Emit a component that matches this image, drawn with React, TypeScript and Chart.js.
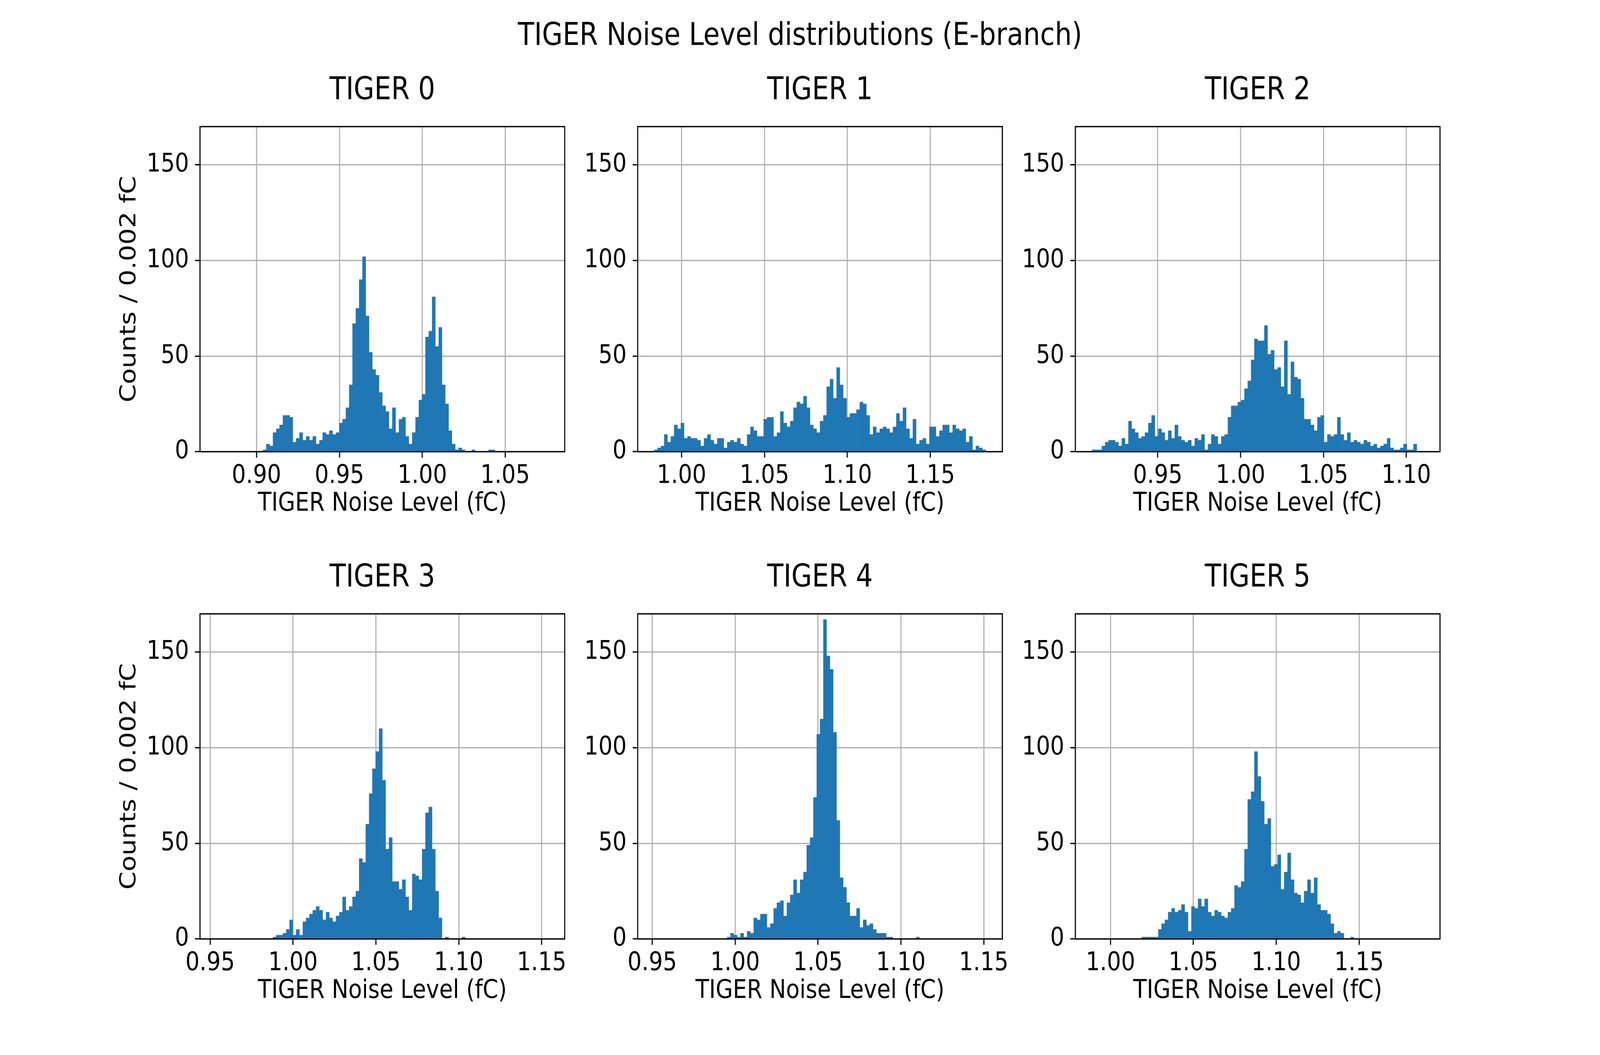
import { useEffect, useRef } from 'react';
import Chart from 'chart.js/auto';

const FONT = "'DejaVu Sans', sans-serif";
const BAR_COLOR = '#1f77b4';
const GRID_COLOR = '#b0b0b0';
const LINE_W = 3.33;

const SUPTITLE = 'TIGER Noise Level distributions (E-branch)';
const X_TITLE = 'TIGER Noise Level (fC)';
const Y_TITLE = 'Counts / 0.002 fC';

const BIN_WIDTH = 0.002;
const N_BINS = 100;
const Y_MAX = 170;
const yTicks = [0, 50, 100, 150];

// TIGER 0
const t0Start = 0.8759;
const t0First = 14;
const t0Counts = [
  1, 4, 3, 10, 12, 14, 19, 19, 18, 5,
  7, 10, 6, 8, 6, 8, 4, 6, 10, 9,
  11, 9, 10, 15, 17, 23, 35, 67, 75, 90,
  102, 71, 52, 43, 40, 31, 24, 21, 12, 23,
  10, 17, 18, 8, 4, 10, 18, 27, 30, 60,
  63, 81, 55, 65, 35, 25, 11, 4, 1, 2,
  1, 0, 0, 1, 0, 0, 0, 0, 1, 1,
];
const t0Ticks = [0.9, 0.95, 1.0, 1.05];

// TIGER 1
const t1Start = 0.9835;
const t1First = 0;
const t1Counts = [
  1, 2, 3, 9, 5, 8, 14, 12, 15, 7,
  8, 7, 7, 6, 3, 7, 9, 6, 4, 7,
  7, 2, 5, 6, 5, 7, 4, 3, 9, 13,
  11, 8, 8, 17, 18, 18, 8, 10, 21, 15,
  13, 16, 23, 26, 25, 29, 23, 14, 12, 10,
  16, 19, 34, 38, 28, 44, 35, 28, 18, 20,
  20, 22, 26, 25, 19, 9, 13, 10, 12, 13,
  12, 10, 13, 20, 16, 23, 12, 7, 17, 4,
  6, 7, 4, 13, 13, 8, 11, 14, 14, 10,
  14, 12, 11, 12, 5, 8, 1, 3, 2, 1,
];
const t1Ticks = [1.0, 1.05, 1.1, 1.15];

// TIGER 2
const t2Start = 0.9103;
const t2First = 0;
const t2Counts = [
  1, 1, 1, 3, 5, 6, 6, 5, 3, 7,
  4, 16, 12, 10, 7, 8, 10, 15, 19, 8,
  12, 10, 6, 11, 7, 14, 8, 6, 5, 6,
  3, 7, 6, 9, 1, 4, 9, 8, 4, 8,
  9, 18, 24, 24, 26, 27, 33, 37, 48, 59,
  58, 58, 66, 51, 53, 43, 44, 34, 58, 30,
  47, 39, 38, 28, 17, 17, 14, 11, 18, 19,
  5, 9, 8, 9, 18, 9, 6, 10, 5, 6,
  5, 4, 6, 5, 3, 4, 2, 3, 4, 7,
  2, 1, 1, 2, 4, 1, 1, 4,
];
const t2Ticks = [0.95, 1.0, 1.05, 1.1];

// TIGER 3
const t3Start = 0.9539;
const t3First = 17;
const t3Counts = [
  1, 2, 2, 3, 5, 10, 2, 5, 2, 9,
  11, 13, 15, 17, 15, 10, 14, 11, 9, 12,
  14, 22, 15, 17, 22, 25, 42, 40, 60, 76,
  89, 98, 110, 83, 47, 53, 30, 30, 26, 31,
  22, 15, 34, 33, 31, 47, 66, 69, 47, 25,
  11, 0, 1, 0, 0, 0, 0, 1,
];
const t3Ticks = [0.95, 1.0, 1.05, 1.1, 1.15];

// TIGER 4
const t4Start = 0.9512;
const t4First = 22;
const t4Counts = [
  1, 3, 2, 1, 3, 1, 4, 3, 11, 10,
  13, 13, 6, 8, 16, 19, 20, 12, 19, 23,
  31, 24, 31, 35, 49, 53, 74, 107, 115, 167,
  148, 141, 108, 62, 32, 27, 19, 12, 12, 16,
  6, 10, 7, 8, 5, 3, 3, 3, 1, 1,
  0, 0, 0, 0, 0, 0, 0, 1,
];
const t4Ticks = [0.95, 1.0, 1.05, 1.1, 1.15];

// TIGER 5
const t5Start = 0.9888;
const t5First = 15;
const t5Counts = [
  1, 1, 1, 1, 1, 5, 8, 10, 14, 16,
  14, 15, 18, 14, 4, 17, 16, 21, 17, 21,
  14, 12, 15, 14, 12, 11, 14, 16, 28, 27,
  30, 47, 73, 77, 98, 85, 72, 60, 63, 38,
  39, 44, 26, 35, 45, 31, 24, 23, 19, 25,
  31, 24, 32, 18, 15, 15, 13, 8, 3, 4,
  3, 0, 0, 1,
];
const t5Ticks = [1.0, 1.05, 1.1, 1.15];

// figure and axes boxes, in figure pixels
const FIG_W = 4800;
const FIG_H = 2700;
const AX_W = 1094;
const AX_H = 832;
const PAD_L = 260;
const PAD_T = 150;
const PAD_R = 40;
const PAD_B = 200;
const COL_X = [600, 1913, 3226];
const ROW_Y = [324, 1571];

// the viewport may not be FIG_W x FIG_H css px, so the figure is stretched to fill it
const hasWin = typeof window !== 'undefined';
const FIT_X = hasWin && window.innerWidth ? window.innerWidth / FIG_W : 1;
const FIT_Y = hasWin && window.innerHeight ? window.innerHeight / FIG_H : 1;
const RATIO = (hasWin ? window.devicePixelRatio || 1 : 1) * Math.max(FIT_X, FIT_Y);

type PanelDef = {
  title: string;
  start: number;
  first: number;
  counts: number[];
  ticks: number[];
};

const panels: PanelDef[] = [
  { title: 'TIGER 0', start: t0Start, first: t0First, counts: t0Counts, ticks: t0Ticks },
  { title: 'TIGER 1', start: t1Start, first: t1First, counts: t1Counts, ticks: t1Ticks },
  { title: 'TIGER 2', start: t2Start, first: t2First, counts: t2Counts, ticks: t2Ticks },
  { title: 'TIGER 3', start: t3Start, first: t3First, counts: t3Counts, ticks: t3Ticks },
  { title: 'TIGER 4', start: t4Start, first: t4First, counts: t4Counts, ticks: t4Ticks },
  { title: 'TIGER 5', start: t5Start, first: t5First, counts: t5Counts, ticks: t5Ticks },
];

const framePlugin = {
  id: 'frame',
  afterDraw(chart: any) {
    const { ctx, chartArea: a } = chart;
    ctx.save();
    ctx.strokeStyle = '#000';
    ctx.lineWidth = LINE_W;
    ctx.strokeRect(a.left, a.top, a.right - a.left, a.bottom - a.top);
    ctx.restore();
  },
};

function Histogram({ def, showYTitle }: { def: PanelDef; showYTitle: boolean }) {
  const canvasRef = useRef<HTMLCanvasElement>(null);
  const chartRef = useRef<Chart | null>(null);

  useEffect(() => {
    if (!canvasRef.current) return;
    if (chartRef.current) chartRef.current.destroy();

    const points = def.counts.map((c, i) => ({
      x: def.start + (def.first + i + 0.5) * BIN_WIDTH,
      y: c,
    }));
    const xMin = def.start - 0.05 * N_BINS * BIN_WIDTH;
    const xMax = def.start + 1.05 * N_BINS * BIN_WIDTH;

    const gridOpts = {
      color: GRID_COLOR,
      lineWidth: LINE_W,
      tickColor: '#000',
      tickWidth: LINE_W,
      tickLength: 15,
      offset: false,
    };

    chartRef.current = new Chart(canvasRef.current, {
      type: 'bar',
      data: {
        datasets: [{
          data: points,
          backgroundColor: BAR_COLOR,
          borderWidth: 0,
          barPercentage: 1,
          categoryPercentage: 1,
        }],
      },
      options: {
        responsive: false,
        animation: false,
        devicePixelRatio: RATIO,
        layout: { padding: { left: 0, top: 0, right: PAD_R, bottom: 0 } },
        plugins: {
          legend: { display: false },
          tooltip: { enabled: false },
          title: {
            display: true,
            fullSize: false,
            text: def.title,
            color: '#000',
            font: { family: FONT, size: 80, weight: 'normal' },
            padding: { top: 11, bottom: 43 },
          },
        },
        scales: {
          x: {
            type: 'linear',
            min: xMin,
            max: xMax,
            offset: false,
            z: 1,
            grid: gridOpts,
            border: { display: false },
            ticks: {
              color: '#000',
              font: { family: FONT, size: 66.67 },
              padding: 8,
              autoSkip: false,
              maxRotation: 0,
              callback: (v: any) => Number(v).toFixed(2),
            },
            title: {
              display: true,
              text: X_TITLE,
              color: '#000',
              font: { family: FONT, size: 66.67 },
              padding: { top: 0, bottom: 26 },
            },
            afterBuildTicks: (scale: any) => {
              scale.ticks = def.ticks.map((v) => ({ value: v }));
            },
            afterFit: (scale: any) => {
              scale.height = PAD_B;
            },
          },
          y: {
            min: 0,
            max: Y_MAX,
            z: 1,
            grid: gridOpts,
            border: { display: false },
            ticks: {
              color: '#000',
              font: { family: FONT, size: 66.67 },
              padding: 18,
              autoSkip: false,
              callback: (v: any) => String(v),
            },
            title: {
              display: showYTitle,
              text: Y_TITLE,
              color: '#000',
              font: { family: FONT, size: 66.67 },
              padding: { top: 9, bottom: 0 },
            },
            afterBuildTicks: (scale: any) => {
              scale.ticks = yTicks.map((v) => ({ value: v }));
            },
            afterFit: (scale: any) => {
              scale.width = PAD_L;
            },
          },
        },
      },
      plugins: [framePlugin],
    } as any);

    return () => {
      if (chartRef.current) {
        chartRef.current.destroy();
        chartRef.current = null;
      }
    };
  }, [def, showYTitle]);

  const w = AX_W + PAD_L + PAD_R;
  const h = AX_H + PAD_T + PAD_B;
  return <canvas ref={canvasRef} width={w} height={h} style={{ width: w, height: h, display: 'block' }} />;
}

export default function App() {
  return (
    <div
      style={{
        position: 'absolute',
        left: 0,
        top: 0,
        width: FIG_W * FIT_X,
        height: FIG_H * FIT_Y,
        overflow: 'hidden',
        background: '#fff',
      }}
    >
      <div
        style={{
          position: 'absolute',
          left: 0,
          top: 0,
          width: FIG_W,
          height: FIG_H,
          transform: `scale(${FIT_X}, ${FIT_Y})`,
          transformOrigin: '0 0',
        }}
      >
        <div
          style={{
            position: 'absolute',
            left: 0,
            top: 48,
            width: FIG_W,
            textAlign: 'center',
            fontFamily: FONT,
            fontSize: 80,
            lineHeight: '80px',
            color: '#000',
            whiteSpace: 'nowrap',
          }}
        >
          {SUPTITLE}
        </div>
        {panels.map((p, i) => {
          const col = i % 3;
          const row = Math.floor(i / 3);
          return (
            <div
              key={p.title}
              style={{ position: 'absolute', left: COL_X[col] - PAD_L, top: ROW_Y[row] - PAD_T }}
            >
              <Histogram def={p} showYTitle={col === 0} />
            </div>
          );
        })}
      </div>
    </div>
  );
}
